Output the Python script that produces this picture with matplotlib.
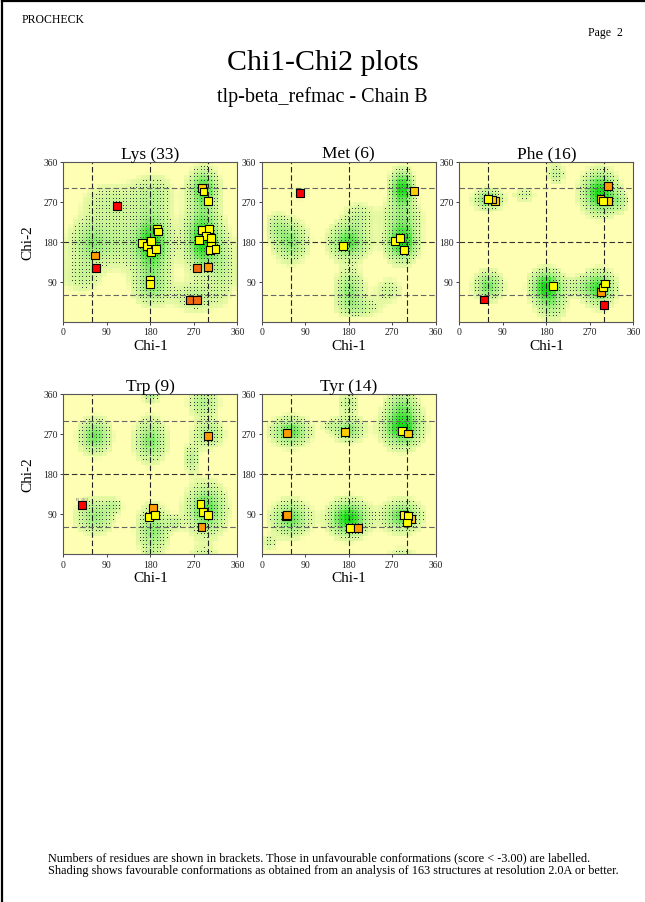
import numpy as np
import matplotlib
matplotlib.use('Agg')
import matplotlib.pyplot as plt
from matplotlib.colors import LinearSegmentedColormap
from matplotlib.lines import Line2D

plt.rcParams['font.family'] = ['Liberation Serif', 'DejaVu Serif']

residues = ['Lys', 'Met', 'Phe', 'Trp', 'Tyr']
counts = [33, 6, 16, 9, 14]

# favourable regions: chi1, chi2, spread1, spread2, strength
lys_regions = [(182, 175, 26, 48, 1.0), (288, 185, 24, 48, 1.0), (290, 300, 20, 30, 0.8),
               (60, 178, 30, 36, 0.6), (182, 75, 25, 27, 0.5), (272, 55, 30, 22, 0.4),
               (95, 270, 40, 30, 0.3), (185, 290, 30, 30, 0.35), (330, 120, 18, 55, 0.3),
               (40, 100, 26, 26, 0.3), (120, 180, 22, 45, 0.25)]
met_regions = [(290, 300, 16, 27, 1.0), (290, 180, 22, 30, 1.0), (180, 180, 27, 27, 0.8),
               (60, 180, 24, 32, 0.6), (182, 70, 20, 30, 0.6), (80, 290, 13, 11, 0.3),
               (30, 215, 15, 22, 0.3), (200, 240, 22, 22, 0.3), (262, 70, 20, 20, 0.3),
               (205, 30, 30, 15, 0.3), (290, 240, 30, 24, 0.35)]
phe_regions = [(60, 275, 20, 16, 0.7), (180, 80, 22, 24, 1.0), (290, 290, 24, 32, 1.0),
               (290, 75, 22, 27, 0.8), (60, 80, 20, 22, 0.7), (135, 285, 16, 11, 0.3),
               (200, 330, 13, 16, 0.35), (190, 35, 22, 22, 0.4), (330, 270, 16, 16, 0.3),
               (250, 80, 22, 16, 0.3)]
trp_regions = [(65, 265, 22, 27, 0.7), (180, 255, 22, 33, 0.65), (290, 340, 22, 22, 0.45),
               (300, 270, 22, 22, 0.5), (265, 215, 11, 22, 0.4), (65, 85, 27, 27, 0.55),
               (185, 55, 22, 38, 0.6), (295, 100, 27, 38, 0.8), (105, 110, 13, 11, 0.3),
               (230, 70, 11, 11, 0.3), (180, 355, 9, 9, 0.3)]
tyr_regions = [(60, 275, 27, 22, 0.75), (180, 280, 22, 20, 0.6), (290, 285, 27, 30, 1.0),
               (290, 340, 22, 22, 0.4), (180, 340, 16, 16, 0.35), (180, 80, 27, 27, 1.0),
               (60, 80, 27, 27, 0.7), (290, 85, 27, 24, 0.75), (15, 25, 11, 11, 0.3),
               (140, 290, 11, 9, 0.25)]

# observed residues: chi1, chi2 and score class (Y yellow ... R red)
lys_chi1 = [111, 66, 68, 163, 174, 181, 181, 191, 193, 196, 180, 179, 261, 277, 277, 299,
            287, 290, 300, 287, 302, 295, 306, 281, 305, 304, 315]
lys_chi2 = [261, 149, 120, 177, 171, 181, 157, 163, 208, 203, 94, 85, 49, 49, 121, 123,
            300, 293, 271, 206, 208, 192, 189, 184, 170, 162, 163]
lys_cls = 'RORYYYYYYYYYDDDOAYYYYYYYYYY'
met_chi1 = [79, 315, 169, 275, 286, 295]
met_chi2 = [290, 295, 170, 182, 188, 162]
met_cls = 'RAYYYY'
phe_chi1 = [73, 67, 60, 307, 292, 307, 298, 194, 294, 297, 301, 51, 300]
phe_chi2 = [271, 275, 276, 305, 276, 271, 271, 80, 67, 77, 86, 50, 37]
phe_cls = 'AAYOAAYYOYYRR'
trp_chi1 = [39, 299, 185, 178, 190, 284, 289, 299, 286]
trp_chi2 = [111, 265, 103, 84, 88, 112, 94, 88, 61]
trp_cls = 'ROOYYYYYO'
tyr_chi1 = [53, 173, 290, 302, 50, 53, 182, 199, 310, 295, 303, 300]
tyr_chi2 = [272, 274, 276, 271, 86, 88, 58, 58, 79, 88, 85, 71]
tyr_cls = 'OAYAOOYOAYYY'
trp_labels = [(39, 111, 'B 363')]

regions = [lys_regions, met_regions, phe_regions, trp_regions, tyr_regions]
chi1s = [lys_chi1, met_chi1, phe_chi1, trp_chi1, tyr_chi1]
chi2s = [lys_chi2, met_chi2, phe_chi2, trp_chi2, tyr_chi2]
classes = [lys_cls, met_cls, phe_cls, trp_cls, tyr_cls]

point_col = {'Y': '#ffff00', 'A': '#ffcc00', 'O': '#ff9a00', 'D': '#f26a10', 'R': '#ff0000'}
shade = LinearSegmentedColormap.from_list(
    'shade', [(0, '#ffffb4'), (0.1, '#ffffb4'), (0.15, '#e8f9a4'), (0.5, '#acef88'), (1, '#14dc14')])


def field(regs, X, Y):
    f = np.zeros_like(X, dtype=float)
    for cx, cy, sx, sy, a in regs:
        dx = (X - cx + 180) % 360 - 180
        dy = (Y - cy + 180) % 360 - 180
        f += a * np.exp(-0.5 * ((dx / sx) ** 2 + (dy / sy) ** 2))
    return np.clip(f, 0, 1)


fig = plt.figure(figsize=(6.45, 9.03), dpi=100)
W, H = 645.0, 903.0

# page frame (left and top)
fig.add_artist(Line2D([2 / W, 2 / W], [0, 1 - 2 / H], color='black', lw=1.6, transform=fig.transFigure))
fig.add_artist(Line2D([2 / W, 1], [1 - 2 / H, 1 - 2 / H], color='black', lw=1.6, transform=fig.transFigure))

fig.text(22 / W, 1 - 20 / H, 'PROCHECK', fontsize=8.5, va='center', ha='left')
fig.text(623 / W, 1 - 33 / H, 'Page  2', fontsize=8.5, va='center', ha='right')
fig.text(0.5, 1 - 63 / H, 'Chi1-Chi2 plots', fontsize=21.5, va='center', ha='center')
fig.text(0.5, 1 - 97 / H, 'tlp-beta_refmac - Chain B', fontsize=14.5, va='center', ha='center')

lefts = [63.3, 261.7, 459.3, 63.3, 261.7]
tops = [162.7, 162.7, 162.7, 395, 395]
aw, ah = 174.0, 160.0

edges = np.arange(0, 361, 10)
cen = edges[:-1] + 5
X, Y = np.meshgrid(cen, cen)
dxs, dys = np.meshgrid(np.arange(4, 360, 7), np.arange(4.5, 360, 8))

for i, res in enumerate(residues):
    ax = fig.add_axes([lefts[i] / W, 1 - (tops[i] + ah) / H, aw / W, ah / H])
    F = field(regions[i], X, Y)
    ax.pcolormesh(edges, edges, F, cmap=shade, vmin=0, vmax=1, shading='flat', zorder=0)
    Fd = field(regions[i], dxs, dys)
    m = Fd > 0.2
    ax.plot(dxs[m], dys[m], ',', color='#3c3c3c', zorder=1)
    for v in (60, 180, 300):
        ax.axvline(v, color='#222222', lw=0.8, dashes=(5, 2.5), zorder=2)
        ax.axhline(v, color='#333333' if v == 180 else '#666666', lw=0.8, dashes=(5, 2.5), zorder=2)
    cols = [point_col[c] for c in classes[i]]
    ax.scatter(chi1s[i], chi2s[i], s=32, marker='s', c=cols, edgecolors='black', linewidths=0.8, zorder=4)
    if res == 'Trp':
        for x, y, lab in trp_labels:
            ax.text(x, y + 9, lab, fontsize=3.5, color='#666666', ha='center', va='bottom', zorder=5)
    ax.set_xlim(0, 360)
    ax.set_ylim(0, 360)
    ax.set_xticks([0, 90, 180, 270, 360])
    ax.set_yticks([90, 180, 270, 360])
    ax.tick_params(labelsize=7, length=2.5, width=0.6, pad=1.5, colors='#222222')
    for sp in ax.spines.values():
        sp.set_color('#555555')
        sp.set_linewidth(0.8)
    ax.set_title('%s (%d)' % (res, counts[i]), fontsize=12.5, pad=1.5)
    ax.set_xlabel('Chi-1', fontsize=11, labelpad=2)
    if i in (0, 3):
        ax.set_ylabel('Chi-2', fontsize=11, labelpad=6)

fig.text(48 / W, 1 - 858 / H,
         'Numbers of residues are shown in brackets. Those in unfavourable conformations (score < -3.00) are labelled.',
         fontsize=8.85, va='center', ha='left')
fig.text(48 / W, 1 - 871 / H,
         'Shading shows favourable conformations as obtained from an analysis of 163 structures at resolution 2.0A or better.',
         fontsize=8.85, va='center', ha='left')

fig.savefig('out.png', dpi=100, facecolor='white')
